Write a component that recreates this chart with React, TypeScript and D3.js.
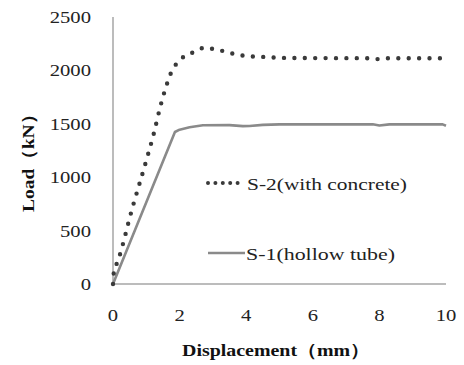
import React from "react";
import * as d3 from "d3";

// Load–displacement curves (displacement in mm, load in kN)
const s2Disp = [0, 0.03, 0.14, 0.58, 1.04, 1.23, 1.41, 1.62, 1.74, 1.92, 2.16, 2.43, 2.73, 3.03, 3.66, 4.0, 4.6, 5.3, 7.7, 7.95, 8.2, 10];
const s2Load = [0, 120, 210, 710, 1200, 1414, 1648, 1873, 1976, 2069, 2135, 2172, 2210, 2200, 2153, 2135, 2125, 2116, 2114, 2106, 2114, 2114];

const s1Disp = [0, 1.86, 2.0, 2.3, 2.7, 3.5, 3.9, 4.1, 4.5, 5.0, 7.0, 7.8, 8.0, 8.3, 9.9, 10];
const s1Load = [0, 1423, 1445, 1468, 1486, 1488, 1478, 1480, 1490, 1495, 1495, 1495, 1484, 1495, 1495, 1482];

const xTicks = [0, 2, 4, 6, 8, 10];
const yTicks = [0, 500, 1000, 1500, 2000, 2500];

const s2Label = "S-2(with concrete)";
const s1Label = "S-1(hollow tube)";
const xTitle = "Displacement（mm）";
const yTitle = "Load（kN）";

const W = 464;
const H = 365;
const left = 113;
const right = 446;
const top = 17;
const bottom = 284;

const SERIF = "Liberation Serif";

export default function App() {
  const x = d3.scaleLinear().domain([0, 10]).range([left, right]);
  const y = d3.scaleLinear().domain([0, 2500]).range([bottom, top]);

  const smooth = d3
    .line<[number, number]>()
    .x((d) => x(d[0]))
    .y((d) => y(d[1]))
    .curve(d3.curveMonotoneX);
  const straight = d3
    .line<[number, number]>()
    .x((d) => x(d[0]))
    .y((d) => y(d[1]));

  const s2 = s2Disp.map((d, i) => [d, s2Load[i]] as [number, number]);
  const s1 = s1Disp.map((d, i) => [d, s1Load[i]] as [number, number]);

  const sx = 1.18; // horizontal stretch of the labels

  return (
    <svg
      width={W}
      height={H}
      style={{ position: "absolute", left: 0, top: 0, background: "#fff" }}
    >
      {/* axes */}
      <line x1={left} x2={left} y1={top} y2={bottom} stroke="#a6a6a6" strokeWidth={1.5} />
      <line x1={left} x2={right} y1={bottom} y2={bottom} stroke="#a6a6a6" strokeWidth={1.5} />

      <g style={{ fontFamily: SERIF }}>
        {/* y tick labels */}
        {yTicks.map((t) => (
          <text
            key={t}
            transform={`translate(91,${y(t) + 6}) scale(${sx},1)`}
            textAnchor="end"
            fontSize={17.5}
            fill="#222"
          >
            {t}
          </text>
        ))}

        {/* x tick labels */}
        {xTicks.map((t) => (
          <text
            key={t}
            transform={`translate(${x(t)},321) scale(${sx},1)`}
            textAnchor="middle"
            fontSize={17.5}
            fill="#222"
          >
            {t}
          </text>
        ))}

        {/* legend labels */}
        <text
          x={247}
          y={190}
          fontSize={17.5}
          fill="#222"
          textLength={160}
          lengthAdjust="spacingAndGlyphs"
        >
          {s2Label}
        </text>
        <text
          x={246}
          y={260}
          fontSize={17.5}
          fill="#222"
          textLength={149}
          lengthAdjust="spacingAndGlyphs"
        >
          {s1Label}
        </text>

        {/* axis titles */}
        <text
          x={182}
          y={356}
          fontWeight="bold"
          fontSize={17}
          fill="#111"
          textLength={188}
          lengthAdjust="spacingAndGlyphs"
        >
          {xTitle}
        </text>
        <text
          transform="translate(34,212) rotate(-90)"
          fontWeight="bold"
          fontSize={17}
          fill="#111"
          textLength={107}
          lengthAdjust="spacingAndGlyphs"
        >
          {yTitle}
        </text>
      </g>

      {/* series */}
      <path d={straight(s1) || ""} fill="none" stroke="#8a8a8a" strokeWidth={2.6} strokeLinejoin="round" />
      <path
        d={smooth(s2) || ""}
        fill="none"
        stroke="#3a3a3a"
        strokeWidth={4.4}
        strokeLinecap="round"
        strokeDasharray="0 10.4"
      />

      {/* legend keys */}
      <line
        x1={208}
        x2={245}
        y1={183}
        y2={183}
        stroke="#3a3a3a"
        strokeWidth={4}
        strokeLinecap="round"
        strokeDasharray="0 7.4"
      />
      <line x1={208} x2={245} y1={253} y2={253} stroke="#8a8a8a" strokeWidth={2.6} />
    </svg>
  );
}
